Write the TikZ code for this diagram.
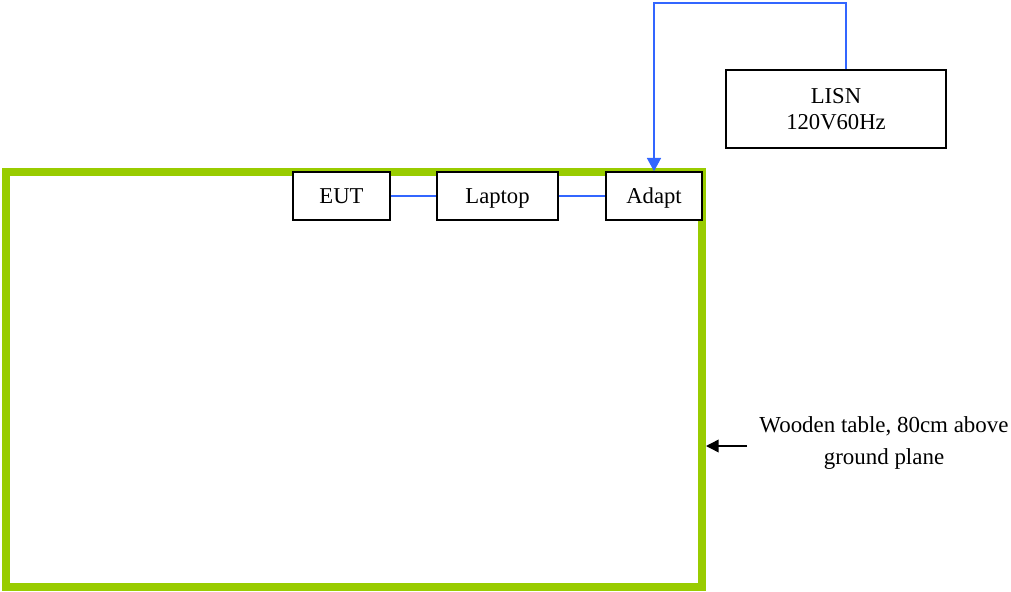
\documentclass[tikz,border=0pt]{standalone}
\usepackage{fontspec}
\setmainfont{Liberation Serif}
\usepackage{xcolor}
\usetikzlibrary{arrows.meta}
\definecolor{tablegreen}{RGB}{153,204,0}
\definecolor{wireblue}{RGB}{51,102,255}
\tikzset{
  boxframe/.style={draw=black, fill=white, line width=1.1pt, inner sep=0pt,
    font=\fontsize{17}{19.5}\selectfont},
  unitbox/.style={boxframe, minimum height=36pt, text height=11.3pt, text depth=0pt},
  wire/.style={draw=wireblue, line width=1.3pt},
}

\begin{document}
\begin{tikzpicture}[x=0.75pt,y=-0.75pt]
    \useasboundingbox (0,0) rectangle (1011,592);

    % table
    \draw[tablegreen, line width=6pt] (6,172) rectangle (702,587);

    % units on the table
    \node[unitbox, minimum width=72.75pt] (eut) at (341.5,196) {EUT};
    \node[unitbox, minimum width=90.75pt] (laptop) at (497.5,196) {Laptop};
    \node[unitbox, minimum width=72pt] (adapt) at (654,196) {Adapt};

    \node[boxframe, minimum width=165pt, minimum height=58.5pt, align=center]
      (lisn) at (836,109) {LISN\\120V60Hz};

    \draw[wire] (eut) -- (laptop);
    \draw[wire] (laptop) -- (adapt);
    \draw[wire, -{Triangle[width=10.5pt,length=10pt]}]
      ([xshift=7.5pt]lisn.north) -- ++(0,-66) -| (adapt.north);

    % label
    \node[align=center, inner sep=0pt, font=\fontsize{17.2}{24}\selectfont] (tablenote)
      at (884,443) {Wooden table, 80cm above\\ground plane};
    \coordinate (noteend) at (747,446);
    \coordinate (tableedge) at (706,446);
    \draw[black, line width=1.1pt, -{Triangle[width=9.5pt,length=9.5pt]}] (noteend) -- (tableedge);
\end{tikzpicture}
\end{document}
